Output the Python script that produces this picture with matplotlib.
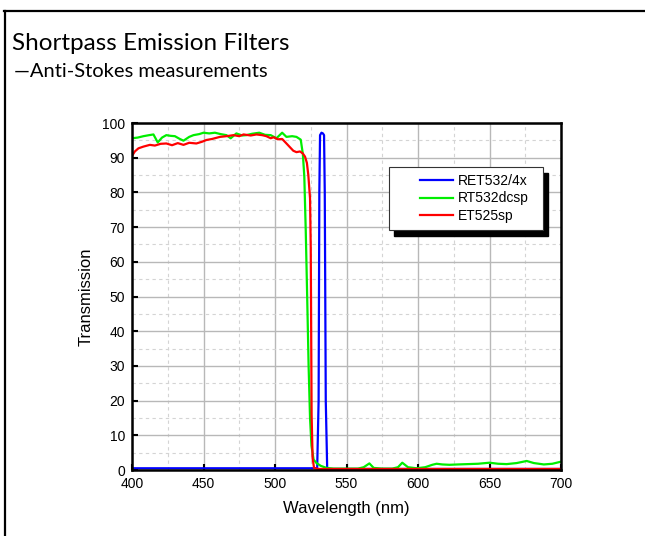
import numpy as np
import matplotlib.pyplot as plt
from matplotlib.patches import Rectangle
from matplotlib.lines import Line2D
from matplotlib.ticker import MultipleLocator

# RET532/4x (blue)
wl_b = [400, 529.5, 530.5, 531, 531.5, 532.5, 533.5, 534.3, 534.8, 535.5, 536.5, 700]
T_b = [0.5, 0.5, 20, 80, 96.5, 97.2, 97.0, 96.5, 80, 20, 0.3, 0.3]

# RT532dcsp (green)
wl_g = [400, 404, 408, 412, 415, 418, 421, 424, 427, 430, 433, 436, 440, 443, 447,
        450, 454, 458, 462, 466, 469, 473, 477, 480, 484, 489, 493, 497, 501, 505,
        508, 512, 515, 518, 519.5, 520.5, 521.5, 522.5, 523.5, 524.5, 525.5, 527,
        529, 532, 536, 541, 550, 558, 562, 566, 569, 575, 582, 586, 589, 593, 599,
        605, 610, 613, 617, 622, 628, 635, 642, 650, 656, 662, 669, 676, 681, 688,
        694, 700]
T_g = [95.6, 95.8, 96.2, 96.5, 96.7, 94.4, 95.8, 96.5, 96.3, 96.2, 95.5, 94.9, 96.0, 96.5, 96.8,
       97.2, 97.0, 97.2, 96.8, 96.5, 95.6, 97.0, 96.4, 96.5, 96.9, 97.2, 96.6, 96.5, 95.6, 97.2,
       96.0, 96.2, 96.0, 95.2, 91, 84.5, 69, 50, 30, 15, 7, 3,
       2, 1.2, 0.6, 0.4, 0.4, 0.4, 0.8, 1.9, 0.6, 0.4, 0.4, 0.8, 2.1, 0.8, 0.5,
       0.8, 1.5, 1.8, 1.6, 1.5, 1.6, 1.7, 1.8, 2.1, 1.8, 1.7, 2.0, 2.6, 2.0, 1.6,
       1.8, 2.4]

# ET525sp (red)
wl_r = [400, 402, 404.5, 408, 412.5, 416, 420, 424, 428, 432, 436, 440, 445, 449, 452,
        456, 461.5, 466, 471, 475, 478, 483, 487, 491, 494, 497, 499, 502, 505, 508,
        510.5, 512.8, 515, 517.5, 519.5, 521, 522.3, 523.3, 524.5, 525, 525.3, 525.6,
        526.3, 527.3, 530, 700]
T_r = [90.5, 91.8, 92.7, 93.2, 93.7, 93.5, 94.0, 94.1, 93.6, 94.2, 93.7, 94.3, 94.1, 94.6, 95.1,
       95.4, 96.0, 96.2, 96.5, 96.2, 96.7, 96.4, 96.7, 96.5, 96.2, 95.6, 95.9, 95.3, 95.4, 94.1,
       93.0, 92.0, 91.6, 91.8, 91.2, 90.3, 88.5, 85, 78.3, 64, 40, 15.9,
       3.4, 0.6, 0.3, 0.3]

labels = ['RET532/4x', 'RT532dcsp', 'ET525sp']

plt.rcParams['font.family'] = ['Liberation Sans', 'DejaVu Sans']

fig = plt.figure(figsize=(6.45, 5.36), dpi=100)
ax = fig.add_axes([132/645, 66/536, 429/645, 347/536])

ax.plot(wl_b, T_b, color='#0000ff', lw=1.6, label=labels[0])
ax.plot(wl_g, T_g, color='#00ee00', lw=1.6, label=labels[1])
ax.plot(wl_r, T_r, color='#ff0000', lw=1.6, label=labels[2])

ax.set_xlim(400, 700)
ax.set_ylim(0, 100)
ax.xaxis.set_major_locator(MultipleLocator(50))
ax.xaxis.set_minor_locator(MultipleLocator(25))
ax.yaxis.set_major_locator(MultipleLocator(10))
ax.yaxis.set_minor_locator(MultipleLocator(5))
ax.grid(which='major', color='#b8b8b8', lw=1.0, ls='-')
ax.grid(which='minor', color='#d4d4d4', lw=0.8, ls=(0, (3, 3)))
ax.set_axisbelow(True)
ax.tick_params(which='major', direction='in', length=4, width=1.5, labelsize=10, pad=5)
ax.tick_params(which='minor', length=0)
for s in ax.spines.values():
    s.set_linewidth(1.8)

ax.set_xlabel('Wavelength (nm)', fontsize=12, labelpad=7)
ax.set_ylabel('Transmission', fontsize=12, labelpad=6)

# legend box with hard black shadow
bx, by, bw, bh = 0.599, 0.6916, 0.359, 0.1816
ax.add_patch(Rectangle((bx + 0.0117, by - 0.0173), bw, bh, transform=ax.transAxes,
                       facecolor='black', edgecolor='black', zorder=5))
ax.add_patch(Rectangle((bx, by), bw, bh, transform=ax.transAxes,
                       facecolor='white', edgecolor='#333333', lw=0.8, zorder=6))
leg = ax.legend(loc='center left', bbox_to_anchor=(0.655, 0.7825), frameon=False,
                fontsize=10, borderpad=0, handlelength=2.4, handletextpad=0.3,
                labelspacing=0.25)
leg.set_zorder(10)

# slide text
fig.text(12/645, 1 - 50/536, 'Shortpass Emission Filters', fontsize=17.5,
         family=['Lato', 'DejaVu Sans'], va='baseline')
fig.text(14/645, 1 - 77/536, '\u2014Anti-Stokes measurements', fontsize=14.5,
         family=['Lato', 'DejaVu Sans'], va='baseline')

# slide border (top and left)
fig.add_artist(Line2D([4/645, 1], [1 - 11/536, 1 - 11/536], color='black', lw=1.6,
                      transform=fig.transFigure))
fig.add_artist(Line2D([5/645, 5/645], [0, 1 - 11/536], color='black', lw=1.6,
                      transform=fig.transFigure))

fig.savefig('out.png', dpi=100)
